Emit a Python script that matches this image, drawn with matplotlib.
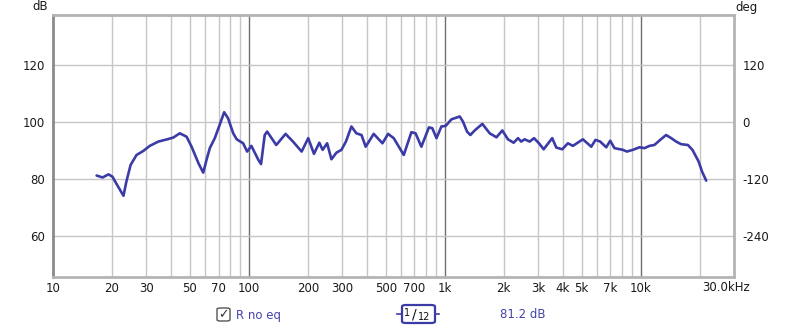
import matplotlib
matplotlib.use('Agg')
import matplotlib.pyplot as plt
from matplotlib.patches import FancyBboxPatch
from matplotlib.lines import Line2D

plt.rcParams['axes.unicode_minus'] = False

# ---- data ----
freq = [16.7, 17.9, 19.2, 20.1, 21.5, 22.9, 23.7, 24.9, 26.7, 28.9, 31.2, 34.5, 38.8,
        41.1, 44.4, 48.1, 51.0, 55.3, 58.5, 60.8, 63.2, 67.0, 70.9, 74.8, 78.3, 83.2,
        86.7, 93.5, 98.0, 103, 111.8, 115.4, 120.5, 124, 138, 154, 168,
        186, 201, 215, 229, 238, 251, 264, 280, 297, 313, 334, 354, 376, 395, 434,
        481, 514, 549, 589, 618, 676, 710, 760, 831, 864, 908, 962, 1012, 1082,
        1193, 1240, 1300, 1352, 1422, 1557, 1698, 1837, 1969, 2103, 2249, 2368,
        2460, 2557, 2716, 2857, 3030, 3200, 3539, 3713, 3985, 4254, 4515, 5077,
        5600, 5890, 6222, 6680, 7000, 7360, 8124, 8515, 9130, 9880, 10480, 11110,
        11760, 12700, 13500, 14350, 15200, 16100, 17450, 18400, 19800, 20600, 21640]
spl = [81.2, 80.5, 81.6, 80.8, 77.3, 74.1, 79.1, 84.9, 88.4, 89.8, 91.6, 93.1, 94.0,
       94.5, 96.0, 94.8, 91.3, 85.5, 82.2, 86.7, 90.8, 94.3, 98.9, 103.4, 101.3, 96.0,
       93.9, 92.5, 89.6, 91.6, 86.7, 85.2, 95.4, 96.6, 91.9, 95.8, 93.1,
       89.6, 94.3, 88.8, 92.7, 90.2, 92.5, 86.9, 89.2, 90.2, 93.1, 98.4, 96.0, 95.4, 91.3, 95.8,
       92.5, 95.8, 94.3, 90.8, 88.4, 96.4, 96.0, 91.3, 98.1, 97.8, 94.3, 98.4, 98.6, 100.9,
       101.9, 100.1, 96.6, 95.4, 97.0, 99.3, 96.0, 94.6, 97.0, 93.9, 92.7, 94.3,
       93.1, 93.9, 93.1, 94.3, 92.5, 90.4, 94.3, 91.0, 90.4, 92.5, 91.6, 93.9,
       91.3, 93.7, 93.1, 91.1, 93.4, 90.8, 90.2, 89.6, 90.2, 91.1, 90.8, 91.6,
       91.9, 93.9, 95.4, 94.3, 93.1, 92.2, 91.9, 90.2, 86.1, 82.6, 79.4]

xtick_vals = [10, 20, 30, 50, 70, 100, 200, 300, 500, 700, 1000, 2000, 3000, 4000, 5000, 7000, 10000]
xtick_labels = ['10', '20', '30', '50', '70', '100', '200', '300', '500', '700', '1k', '2k', '3k',
                '4k', '5k', '7k', '10k']
grid_minor = [20, 30, 40, 50, 60, 70, 80, 90, 200, 300, 400, 500, 600, 700, 800, 900,
              2000, 3000, 4000, 5000, 6000, 7000, 8000, 9000, 20000]
grid_major = [100, 1000, 10000]
ytick_vals = [60, 80, 100, 120]
deg_ticks = [120, 0, -120, -240]

line_color = '#3b3ba8'
text_blue = '#4444aa'

fig = plt.figure(figsize=(8, 3.3), dpi=100)
ax = fig.add_axes([53/800, 1-277/330, (734-53)/800, (277-15)/330])
ax.set_xscale('log')
ax.set_xlim(10, 30000)
ylo, yhi = 45.6, 137.5
ax.set_ylim(ylo, yhi)

for f in grid_minor:
    ax.axvline(f, color='#c6c6c6', lw=1.0, zorder=1)
for f in grid_major:
    ax.axvline(f, color='#707070', lw=1.0, zorder=1)
for v in ytick_vals:
    ax.axhline(v, color='#c6c6c6', lw=1.0, zorder=1)

ax.plot(freq, spl, color=line_color, lw=1.9, zorder=3, solid_joinstyle='round',
        solid_capstyle='round')

ax.set_xticks(xtick_vals)
ax.set_xticklabels(xtick_labels)
ax.xaxis.set_minor_locator(matplotlib.ticker.NullLocator())
ax.set_yticks(ytick_vals)
ax.tick_params(axis='both', length=0, labelsize=8.5, colors='#1a1a1a')
ax.tick_params(axis='x', pad=3.5)
ax.tick_params(axis='y', pad=6)
fig.text(702/800, 1-287.5/330, '30.0kHz', ha='left', va='center', fontsize=8.5, color='#1a1a1a')

for s in ['top', 'right', 'bottom']:
    ax.spines[s].set_color('#b4b4b4')
    ax.spines[s].set_linewidth(2)
ax.spines['left'].set_color('#8a8a8a')
ax.spines['left'].set_linewidth(2)

ax2 = ax.twinx()
ax2.set_ylim((ylo-100)*6, (yhi-100)*6)
ax2.set_yticks(deg_ticks)
ax2.tick_params(axis='y', length=0, labelsize=8.5, colors='#1a1a1a', pad=6)
for s in ax2.spines.values():
    s.set_visible(False)

fig.text(40/800, 1-7/330, 'dB', ha='center', va='center', fontsize=8.5, color='#1a1a1a')
fig.text(747/800, 1-7/330, 'deg', ha='center', va='center', fontsize=8.5, color='#1a1a1a')

# legend row
cb = FancyBboxPatch((217/800, 1-321/330), 13/800, 13/330, boxstyle='round,pad=0,rounding_size=0.004',
                    transform=fig.transFigure, fill=False, ec='#555555', lw=1)
fig.patches.append(cb)
fig.text(223.5/800, 1-314.5/330, '✓', ha='center', va='center', fontsize=9, color='#333333')
fig.text(236/800, 1-315/330, 'R no eq', ha='left', va='center', fontsize=8.5, color=text_blue)

bx = FancyBboxPatch((402/800, 1-323/330), 33/800, 18/330, boxstyle='round,pad=0,rounding_size=0.005',
                    transform=fig.transFigure, fill=False, ec='#3b3ba8', lw=1.6)
fig.patches.append(bx)
fig.lines.append(Line2D([397/800, 402/800], [1-314/330, 1-314/330], transform=fig.transFigure,
                        color='#3b3ba8', lw=1.2))
fig.lines.append(Line2D([435/800, 439/800], [1-314/330, 1-314/330], transform=fig.transFigure,
                        color='#3b3ba8', lw=1.2))
fig.text(407/800, 1-312.5/330, '1', ha='center', va='center', fontsize=7, color='#111111')
fig.text(414/800, 1-314/330, '/', ha='center', va='center', fontsize=10, color='#111111')
fig.text(424.5/800, 1-317.5/330, '12', ha='center', va='center', fontsize=7, color='#111111')

fig.text(500/800, 1-314.5/330, '81.2 dB', ha='left', va='center', fontsize=8.5, color=text_blue)

fig.savefig('out.png', dpi=100)
